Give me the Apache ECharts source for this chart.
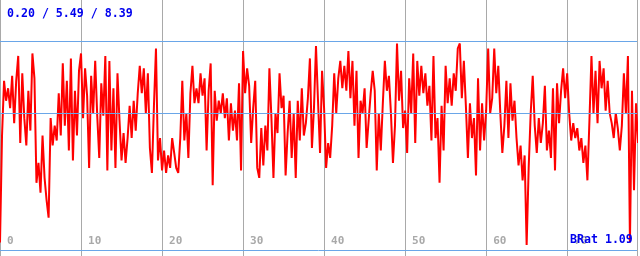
<!DOCTYPE html>
<html>
<head>
<meta charset="utf-8">
<script src="https://cdn.jsdelivr.net/npm/echarts@6/dist/echarts.min.js"></script>
<style>html,body{margin:0;padding:0;background:#fff}#c{width:640px;height:256px}</style>
</head>
<body>
<div id="c"></div>
<script>
// sampling step along x (axis units)
const XSTEP = 0.25;
// series values, read left to right
const seg1 = [0.3,4.6,6.8,6.0,6.5,5.7,7.0,5.1,6.8,7.8,4.3,7.1,5.3,4.2,6.4,4.8,7.9,6.9,2.7,3.5,2.3,4.6,2.9,2.0,1.3,5.3,4.2,5.0,4.4,6.3,4.6,7.5,5.0,6.8,4.0,7.7,3.6,6.4,4.6,7.2,7.9,5.3,7.3,6.2,3.3,7.0,5.5,7.6,5.4,3.7,6.7,5.4,7.8,3.2,7.6,4.0,6.5,3.3,7.1,5.2,3.6,4.7,3.5,4.5];
const seg2 = [5.8,4.5,6.0,4.8,6.3,7.4,6.3,7.3,5.5,7.1,4.1,3.1,5.8,8.1,3.6,4.5,3.2,4.0,3.1,3.8,3.3,4.5,3.9,3.3,3.1,4.5,6.8,4.4,5.5,3.7,6.3,7.4,5.9,6.5,5.9,7.1,6.2,6.9,4.0,6.4,7.5,2.6,6.4,5.2,6.0,5.5,6.3,5.3,6.1,4.4,5.9,4.8,5.6,4.4,6.7,3.2,8.0,6.3,7.3,6.6,4.3,5.7];
const seg3 = [6.8,3.3,2.9,4.9,3.4,5.0,4.0,7.3,5.3,2.9,5.5,4.7,7.1,5.7,6.2,3.0,4.7,6.0,3.7,5.5,2.9,6.0,4.4,6.5,4.6,5.1,6.1,7.7,4.1,5.7,8.2,6.0,3.9,7.2,5.7,3.3,4.3,3.7,5.0,7.1,5.5,6.9,7.6,6.5,7.4,6.4,8.0,6.1,7.6,5.0,7.2,3.7,6.0,5.5,6.5,4.1,5.2,6.3,7.2,6.4,3.2,5.5,4.0,5.9];
const seg4 = [7.6,6.4,7.0,5.5,3.5,5.0,8.3,6.0,7.2,4.9,5.6,3.9,6.9,5.5,7.9,4.3,7.6,6.2,7.4,6.3,7.1,5.8,6.6,4.4,7.8,4.5,5.3,2.7,5.8,4.0,7.4,5.9,6.9,5.8,7.1,6.4,8.1,8.3,6.1,7.6,5.8,3.7,5.9,4.5,5.3,3.0,6.9,4.0,5.9,4.4,5.6,8.1,5.5,6.1,8.1,6.3,7.4,5.5,3.9,5.0,6.8,4.5];
const seg5 = [6.7,5.2,6.0,4.5,3.4,4.2,2.8,3.8,0.2,3.3,5.5,7.0,5.0,3.9,5.3,4.3,5.1,6.6,4.0,4.8,3.7,6.5,3.2,6.7,5.1,6.4,7.3,6.1,7.1,5.5,4.4,5.1,4.5,4.9,4.0,4.5,3.5,4.2,2.8,5.2,7.8,5.5,7.2,5.1,7.6,6.5,7.3,5.6,6.8,5.5,5.1,4.5,5.5,4.9,4.0,5.0,7.1,5.5,7.8,0.3,6.4,2.4,5.9,4.3];
// reference lines (min / avg / max)
const statMin = 0.20, statAvg = 5.49, statMax = 8.39;
const ratio = '1.09';
const xTicks = [0,10,20,30,40,50,60,70];

const values = seg1.concat(seg2, seg3, seg4, seg5);
const pts = values.map((v, i) => [i * XSTEP, v]);

const chart = echarts.init(document.getElementById('c'), null, {renderer: 'canvas'});
const mono = '"DejaVu Sans Mono", monospace';
chart.setOption({
  animation: false,
  backgroundColor: '#ffffff',
  grid: {left: 0, right: 0, top: 0, bottom: 0, containLabel: false},
  xAxis: {
    type: 'value', min: 0, max: 78.62, interval: 10,
    axisLine: {show: false}, axisTick: {show: false},
    splitLine: {show: true, lineStyle: {color: '#a9a9a9', width: 1}},
    axisLabel: {
      inside: true, align: 'left', margin: 9, padding: [0, 0, 0, 7],
      color: '#a9a9a9', fontFamily: mono, fontWeight: 'bold', fontSize: 11,
      formatter: v => xTicks.indexOf(Math.round(v * 1000) / 1000) >= 0 ? String(v) : ''
    }
  },
  yAxis: {
    type: 'value', min: -0.241, max: 10.048,
    axisLine: {show: false}, axisTick: {show: false}, axisLabel: {show: false},
    splitLine: {show: false}
  },
  series: [{
    type: 'line', data: pts, showSymbol: false, symbol: 'none',
    lineStyle: {color: '#ff0000', width: 2, join: 'miter', miterLimit: 2},
    z: 3,
    markLine: {
      silent: true, symbol: 'none', label: {show: false},
      lineStyle: {color: '#6aa6e8', width: 1, type: 'solid'},
      data: [{yAxis: 0}, {yAxis: statAvg}, {yAxis: statMax}]
    }
  }],
  graphic: [
    {type: 'text', left: 7, top: 8, z: 10,
     style: {text: statMin.toFixed(2) + ' / ' + statAvg.toFixed(2) + ' / ' + statMax.toFixed(2),
             fill: '#0000ee', font: 'bold 11.6px ' + mono}},
    {type: 'text', left: 570, top: 234, z: 10,
     style: {text: 'BRat ' + ratio, fill: '#0000ee', font: 'bold 11.6px ' + mono}}
  ]
});
</script>
</body>
</html>
